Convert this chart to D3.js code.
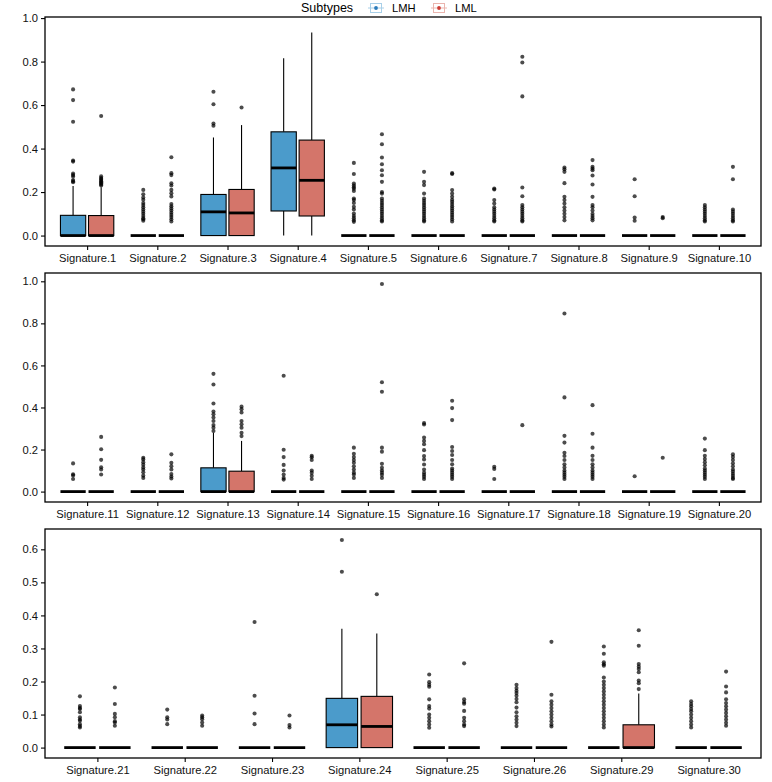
<!DOCTYPE html>
<html>
<head>
<meta charset="utf-8">
<script src="https://cdn.jsdelivr.net/npm/d3@7"></script>
<style>
	body { margin: 0; background: #fff; }
	text { font-family: 'Liberation Sans', Arial, sans-serif; }
</style>
</head>
<body>
<div id="js_chart"></div>
<script>
/*globals d3*/
'use strict';

// categories, one row of panels each
const rowSignatures = [
	['Signature.1', 'Signature.2', 'Signature.3', 'Signature.4', 'Signature.5',
		'Signature.6', 'Signature.7', 'Signature.8', 'Signature.9', 'Signature.10'],
	['Signature.11', 'Signature.12', 'Signature.13', 'Signature.14', 'Signature.15',
		'Signature.16', 'Signature.17', 'Signature.18', 'Signature.19', 'Signature.20'],
	['Signature.21', 'Signature.22', 'Signature.23', 'Signature.24', 'Signature.25',
		'Signature.26', 'Signature.29', 'Signature.30']
];
const subtypes = ['LMH', 'LML'];
const yTicks = [
	[0, 0.2, 0.4, 0.6, 0.8, 1.0],
	[0, 0.2, 0.4, 0.6, 0.8, 1.0],
	[0, 0.1, 0.2, 0.3, 0.4, 0.5, 0.6]
];
const yLimits = [[-0.048, 1.005], [-0.0495, 1.0395], [-0.0315, 0.6615]];

// box stats: [lower whisker, q1, median, q3, upper whisker], signatures in row order
const zero = [0, 0, 0, 0, 0];
const boxLMH = [
	[0, 0, 0, 0.093, 0.228], zero, [0, 0, 0.109, 0.189, 0.451], [0, 0.113, 0.311, 0.477, 0.815], zero,
	zero, zero, zero, zero, zero,
	zero, zero, [0, 0, 0, 0.113, 0.28], zero, zero,
	zero, zero, zero, zero, zero,
	zero, zero, zero, [0, 0, 0.069, 0.149, 0.36], zero,
	zero, zero, zero
];
const boxLML = [
	[0, 0, 0, 0.092, 0.222], zero, [0, 0, 0.104, 0.212, 0.508], [0, 0.09, 0.254, 0.439, 0.934], zero,
	zero, zero, zero, zero, zero,
	zero, zero, [0, 0, 0, 0.097, 0.241], zero, zero,
	zero, zero, zero, zero, zero,
	zero, zero, zero, [0, 0, 0.064, 0.155, 0.345], zero,
	zero, [0, 0, 0, 0.069, 0.164], zero
];
const outLMH = [
	[0.672, 0.623, 0.523, 0.345, 0.34, 0.285, 0.278, 0.272, 0.255, 0.25, 0.245],
	[0.21, 0.19, 0.175, 0.165, 0.15, 0.14, 0.13, 0.12, 0.11, 0.1, 0.09, 0.08, 0.075, 0.068],
	[0.661, 0.604, 0.515, 0.505],
	[],
	[0.334, 0.283, 0.239, 0.23, 0.222, 0.215, 0.205, 0.17, 0.163, 0.15, 0.132, 0.12, 0.101, 0.09, 0.08, 0.07, 0.063],
	[0.293, 0.247, 0.232, 0.193, 0.17, 0.16, 0.15, 0.14, 0.13, 0.12, 0.11, 0.1, 0.09, 0.08, 0.07, 0.065],
	[0.216, 0.212, 0.163, 0.147, 0.13, 0.12, 0.11, 0.1, 0.09, 0.08, 0.07, 0.065],
	[0.313, 0.305, 0.293, 0.241, 0.178, 0.163, 0.147, 0.13, 0.115, 0.1, 0.085, 0.07],
	[0.259, 0.181, 0.083, 0.068],
	[0.14, 0.13, 0.12, 0.11, 0.1, 0.09, 0.08, 0.07, 0.065],
	[0.134, 0.082, 0.077, 0.06],
	[0.161, 0.153, 0.14, 0.128, 0.115, 0.105, 0.092, 0.076, 0.065],
	[0.56, 0.509, 0.419, 0.381, 0.368, 0.352, 0.336, 0.317, 0.304, 0.288],
	[0.551, 0.199, 0.164, 0.127, 0.1, 0.081, 0.065, 0.057],
	[0.209, 0.18, 0.164, 0.15, 0.137, 0.12, 0.105, 0.09, 0.081, 0.065],
	[0.326, 0.319, 0.257, 0.241, 0.225, 0.197, 0.169, 0.153, 0.129, 0.105, 0.09, 0.08, 0.07, 0.06],
	[0.118, 0.108, 0.06],
	[0.847, 0.448, 0.265, 0.233, 0.185, 0.169, 0.15, 0.13, 0.115, 0.1, 0.09, 0.08, 0.07, 0.06],
	[0.073],
	[0.252, 0.197, 0.17, 0.155, 0.14, 0.125, 0.11, 0.1, 0.09, 0.08, 0.07, 0.06],
	[0.155, 0.126, 0.12, 0.117, 0.107, 0.092, 0.085, 0.081, 0.071, 0.065, 0.061],
	[0.115, 0.092, 0.085, 0.071],
	[0.38, 0.157, 0.103, 0.071],
	[0.628, 0.532],
	[0.221, 0.198, 0.19, 0.184, 0.146, 0.126, 0.118, 0.1, 0.09, 0.08, 0.07, 0.06],
	[0.19, 0.18, 0.172, 0.165, 0.157, 0.147, 0.137, 0.121, 0.107, 0.095, 0.085, 0.075, 0.065],
	[0.306, 0.284, 0.258, 0.252, 0.248, 0.212, 0.2, 0.19, 0.18, 0.17, 0.16, 0.15, 0.14, 0.13, 0.12, 0.11, 0.1, 0.09, 0.08, 0.07, 0.061],
	[0.14, 0.132, 0.125, 0.117, 0.11, 0.1, 0.09, 0.08, 0.07, 0.061]
];
const outLML = [
	[0.55, 0.272, 0.265, 0.26, 0.255, 0.25, 0.245, 0.24, 0.235, 0.23],
	[0.36, 0.287, 0.278, 0.24, 0.23, 0.21, 0.195, 0.18, 0.145, 0.135, 0.125, 0.115, 0.105, 0.095, 0.085, 0.075, 0.065],
	[0.589],
	[],
	[0.466, 0.42, 0.359, 0.328, 0.3, 0.277, 0.247, 0.2, 0.193, 0.17, 0.16, 0.15, 0.14, 0.13, 0.12, 0.11, 0.1, 0.09, 0.08, 0.07, 0.065],
	[0.287, 0.283, 0.209, 0.193, 0.178, 0.165, 0.155, 0.145, 0.135, 0.125, 0.115, 0.105, 0.095, 0.085, 0.075, 0.065],
	[0.822, 0.796, 0.64, 0.221, 0.181, 0.14, 0.13, 0.12, 0.11, 0.1, 0.09, 0.08, 0.07, 0.065],
	[0.347, 0.316, 0.308, 0.3, 0.276, 0.235, 0.178, 0.14, 0.13, 0.115, 0.1, 0.09, 0.08, 0.07],
	[0.085, 0.08],
	[0.316, 0.259, 0.12, 0.11, 0.1, 0.09, 0.08, 0.07, 0.065],
	[0.26, 0.201, 0.151, 0.116, 0.105, 0.081],
	[0.177, 0.137, 0.121, 0.105, 0.084, 0.072, 0.062],
	[0.404, 0.392, 0.376, 0.336, 0.32, 0.304, 0.28, 0.264],
	[0.17, 0.163, 0.15, 0.1, 0.09, 0.075, 0.06],
	[0.987, 0.52, 0.475, 0.209, 0.19, 0.132, 0.113, 0.1, 0.09, 0.08, 0.065],
	[0.432, 0.397, 0.34, 0.212, 0.193, 0.174, 0.15, 0.13, 0.11, 0.1, 0.09, 0.08, 0.07, 0.06],
	[0.316],
	[0.411, 0.275, 0.209, 0.17, 0.15, 0.13, 0.115, 0.1, 0.09, 0.08, 0.07, 0.06],
	[0.161],
	[0.177, 0.165, 0.15, 0.135, 0.12, 0.105, 0.095, 0.085, 0.075, 0.065, 0.06],
	[0.182, 0.132, 0.102, 0.092, 0.08, 0.076, 0.066],
	[0.097, 0.092, 0.086, 0.076, 0.066],
	[0.097, 0.068, 0.061],
	[0.464],
	[0.255, 0.146, 0.138, 0.133, 0.111, 0.09, 0.08, 0.07, 0.065],
	[0.32, 0.16, 0.14, 0.13, 0.12, 0.11, 0.1, 0.09, 0.08, 0.07, 0.064],
	[0.355, 0.308, 0.253, 0.245, 0.238, 0.228, 0.203, 0.195, 0.177],
	[0.23, 0.185, 0.167, 0.146, 0.135, 0.125, 0.115, 0.105, 0.095, 0.085, 0.075, 0.066]
];

(function () {
	const width = 772;
	const height = 782;
	const plotLeft = 45;
	const plotRight = 761;
	const panelTop = 17;
	const panelStep = 256;
	const panelHt = 229;
	const fontSize = '11.2px';
	const fillColors = { LMH: '#4b9bcb', LML: '#d4756a' };
	const keyStroke = { LMH: '#a8cfe8', LML: '#eab5ae' };
	const keyDot = { LMH: '#2b7bba', LML: '#cc3b33' };

	let svg = d3.select('#js_chart').append('svg')
		.attr('width', width)
		.attr('height', height);

	function drawLegend() {
		let _g = svg.append('g').attr('id', 'legend');
		_g.append('text')
			.attr('x', 301)
			.attr('y', 12)
			.style('font-size', '12.5px')
			.style('fill', '#000')
			.text('Subtypes');
		let _keyX = { LMH: 370, LML: 433 };
		subtypes.forEach(function (s) {
			let _x = _keyX[s];
			_g.append('line')
				.attr('x1', _x - 2).attr('x2', _x + 14)
				.attr('y1', 8).attr('y2', 8)
				.style('stroke', keyStroke[s]).style('stroke-width', 1);
			_g.append('rect')
				.attr('x', _x + 0.5).attr('y', 3.5)
				.attr('width', 11).attr('height', 9)
				.style('fill', '#fff')
				.style('stroke', keyStroke[s]).style('stroke-width', 1);
			_g.append('line')
				.attr('x1', _x + 1).attr('x2', _x + 11)
				.attr('y1', 8).attr('y2', 8)
				.style('stroke', keyStroke[s]).style('stroke-width', 1);
			_g.append('circle')
				.attr('cx', _x + 6).attr('cy', 8).attr('r', 1.9)
				.style('fill', keyDot[s]);
			_g.append('text')
				.attr('x', _x + 22)
				.attr('y', 12)
				.style('font-size', fontSize)
				.style('fill', '#000')
				.text(s);
		});
	}

	function drawPanel(r, startIdx) {
		let _cats = rowSignatures[r];
		let _top = panelTop + r * panelStep;
		let _bottom = _top + panelHt;
		let _x = d3.scalePoint().domain(_cats).range([plotLeft, plotRight]).padding(0.6);
		let _y = d3.scaleLinear().domain(yLimits[r]).range([_bottom, _top]);
		let _step = _x.step();
		let _boxW = 0.36 * _step;
		let _offset = { LMH: -0.2 * _step, LML: 0.2 * _step };
		let _g = svg.append('g').attr('class', 'panel');

		_cats.forEach(function (c, i) {
			let _idx = startIdx + i;
			let _sets = { LMH: [boxLMH[_idx], outLMH[_idx]], LML: [boxLML[_idx], outLML[_idx]] };
			subtypes.forEach(function (s) {
				let _b = _sets[s][0];
				let _cx = _x(c) + _offset[s];
				// outliers
				_g.selectAll(null)
					.data(_sets[s][1]).enter().append('circle')
					.attr('cx', _cx)
					.attr('cy', function (d) { return _y(d); })
					.attr('r', 2.05)
					.style('fill', '#000')
					.style('fill-opacity', 0.7);
				// whiskers
				_g.append('line')
					.attr('x1', _cx).attr('x2', _cx)
					.attr('y1', _y(_b[3])).attr('y2', _y(_b[4]))
					.style('stroke', '#000').style('stroke-width', 1.1);
				_g.append('line')
					.attr('x1', _cx).attr('x2', _cx)
					.attr('y1', _y(_b[0])).attr('y2', _y(_b[1]))
					.style('stroke', '#000').style('stroke-width', 1.1);
				// box
				_g.append('rect')
					.attr('x', _cx - _boxW / 2)
					.attr('y', _y(_b[3]))
					.attr('width', _boxW)
					.attr('height', _y(_b[1]) - _y(_b[3]))
					.style('fill', fillColors[s])
					.style('stroke', '#000')
					.style('stroke-width', 1.1);
				// median
				_g.append('line')
					.attr('x1', _cx - _boxW / 2).attr('x2', _cx + _boxW / 2)
					.attr('y1', _y(_b[2])).attr('y2', _y(_b[2]))
					.style('stroke', '#000').style('stroke-width', 2.8);
			});
		});

		// frame
		_g.append('rect')
			.attr('x', plotLeft).attr('y', _top)
			.attr('width', plotRight - plotLeft).attr('height', panelHt)
			.style('fill', 'none')
			.style('stroke', '#000')
			.style('stroke-width', 1.3);

		let _yAxis = _g.append('g')
			.attr('transform', 'translate(' + plotLeft + ',0)')
			.call(d3.axisLeft(_y).tickValues(yTicks[r]).tickSize(4).tickPadding(3).tickFormat(d3.format('.1f')));
		let _xAxis = _g.append('g')
			.attr('transform', 'translate(0,' + _bottom + ')')
			.call(d3.axisBottom(_x).tickSize(4).tickPadding(4));
		[_yAxis, _xAxis].forEach(function (a) {
			a.select('.domain').remove();
			a.selectAll('.tick line').style('stroke', '#000').style('stroke-width', 1.1);
			a.selectAll('.tick text')
				.style('font-size', fontSize)
				.style('font-family', "'Liberation Sans', Arial, sans-serif")
				.style('fill', '#111');
		});
	}

	drawLegend();
	let _start = 0;
	rowSignatures.forEach(function (cats, r) {
		drawPanel(r, _start);
		_start += cats.length;
	});
})();
</script>
</body>
</html>
